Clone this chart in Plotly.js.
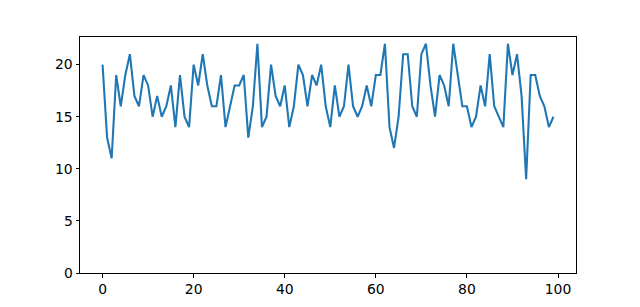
<!DOCTYPE html>
<html>
<head>
<meta charset="utf-8">
<script src="https://cdn.plot.ly/plotly-3.0.1.min.js"></script>
<style>html,body{margin:0;padding:0;background:#fff;}#chart{width:640px;height:307px;}</style>
</head>
<body>
<div id="chart"></div>
<script>
const xValues = Array.from({length: 100}, (_, i) => i);
const yValues = [20,13,11,19,16,19,21,17,16,19,18,15,17,15,16,18,14,19,15,14,
                 20,18,21,18,16,16,19,14,16,18,18,19,13,16,22,14,15,20,17,16,
                 18,14,16,20,19,16,19,18,20,16,14,18,15,16,20,16,15,16,18,16,
                 19,19,22,14,12,15,21,21,16,15,21,22,18,15,19,18,16,22,19,16,
                 16,14,15,18,16,21,16,15,14,22,19,21,17,9,19,19,17,16,14,15];
const xTicks = [0, 20, 40, 60, 80, 100];
const yTicks = [0, 5, 10, 15, 20];

const axisCommon = {
  showgrid: false, zeroline: false, showline: true, mirror: true,
  linecolor: '#000', linewidth: 1, ticks: 'outside', ticklen: 3.5,
  tickwidth: 1, tickcolor: '#000',
  tickfont: {family: 'DejaVu Sans', size: 13.9, color: '#000'}
};

Plotly.newPlot('chart', [{
  x: xValues, y: yValues, type: 'scatter', mode: 'lines',
  line: {color: '#1f77b4', width: 2.08}
}], {
  width: 640, height: 307,
  margin: {l: 80, r: 64, t: 37, b: 34, pad: 0},
  paper_bgcolor: '#fff', plot_bgcolor: '#fff',
  showlegend: false,
  xaxis: Object.assign({}, axisCommon, {range: [-4.95, 103.95], tickvals: xTicks, ticktext: xTicks.map(String)}),
  yaxis: Object.assign({}, axisCommon, {range: [0, 22.65], tickvals: yTicks, ticktext: yTicks.map(String)})
}, {staticPlot: true, displayModeBar: false});
</script>
</body>
</html>
